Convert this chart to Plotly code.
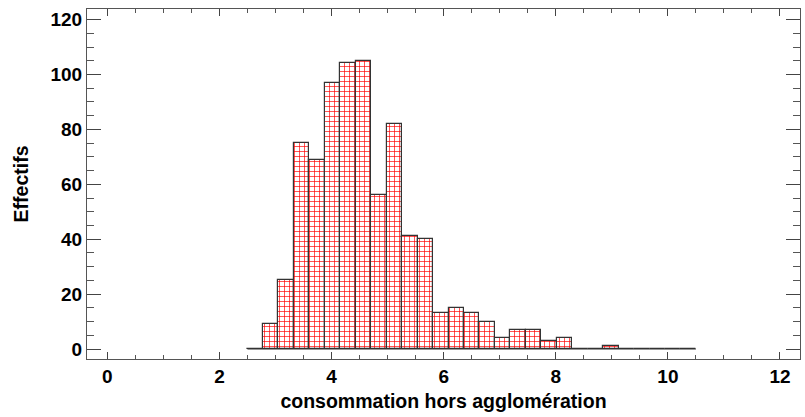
import numpy as np
import plotly.graph_objects as go

# Histogram data
bin_start = 2.5
bin_end = 10.5
counts = [0, 9, 25, 75, 69, 97, 104, 105, 56, 82, 41, 40, 13, 15, 13, 10,
          4, 7, 7, 3, 4, 0, 0, 1, 0, 0, 0, 0, 0]
x_title = "consommation hors agglomération"
y_title = "Effectifs"
x_ticks = [0, 2, 4, 6, 8, 10, 12]
y_ticks = [0, 20, 40, 60, 80, 100, 120]

edges = np.linspace(bin_start, bin_end, len(counts) + 1)
centers = (edges[:-1] + edges[1:]) / 2
bw = edges[1] - edges[0]

fig = go.Figure()
fig.add_trace(go.Scatter(
    x=[edges[0], edges[-1]], y=[0, 0], mode="lines",
    line=dict(color="#333333", width=1), showlegend=False, hoverinfo="skip"))
fig.add_trace(go.Bar(
    x=centers, y=counts, width=bw,
    marker=dict(color="white",
                line=dict(color="#333333", width=1.2),
                pattern=dict(shape="+", fgcolor="#ff0000", bgcolor="white",
                             size=5, solidity=0.25, fillmode="replace")),
    showlegend=False))

font_fam = "Liberation Sans, Arial, sans-serif"
axis_common = dict(
    showline=True, linecolor="#555555", linewidth=1, mirror="ticks",
    ticks="inside", tickcolor="#444444", showgrid=False, zeroline=False,
    tickfont=dict(family=font_fam, size=19, color="black", weight="bold"),
)
fig.update_xaxes(
    range=[-0.363, 12.357], tickmode="array", tickvals=x_ticks,
    ticklen=7, tickwidth=1,
    minor=dict(dtick=0.5, tick0=0, ticklen=4, ticks="inside", tickcolor="#555555", showgrid=False),
    title=dict(text=x_title, font=dict(family=font_fam, size=19.5, color="black", weight="bold"), standoff=8),
    **axis_common)
fig.update_yaxes(
    range=[-3.64, 123.85], tickmode="array", tickvals=y_ticks,
    ticklen=14, tickwidth=1,
    minor=dict(dtick=5, tick0=0, ticklen=7, ticks="inside", tickcolor="#555555", showgrid=False),
    title=dict(text=y_title, font=dict(family=font_fam, size=19.5, color="black", weight="bold"), standoff=16),
    **axis_common)
fig.update_layout(
    width=805, height=417,
    margin=dict(l=87, r=5, t=9, b=58),
    plot_bgcolor="white", paper_bgcolor="white",
    bargap=0,
)
fig.write_html("out.html")
